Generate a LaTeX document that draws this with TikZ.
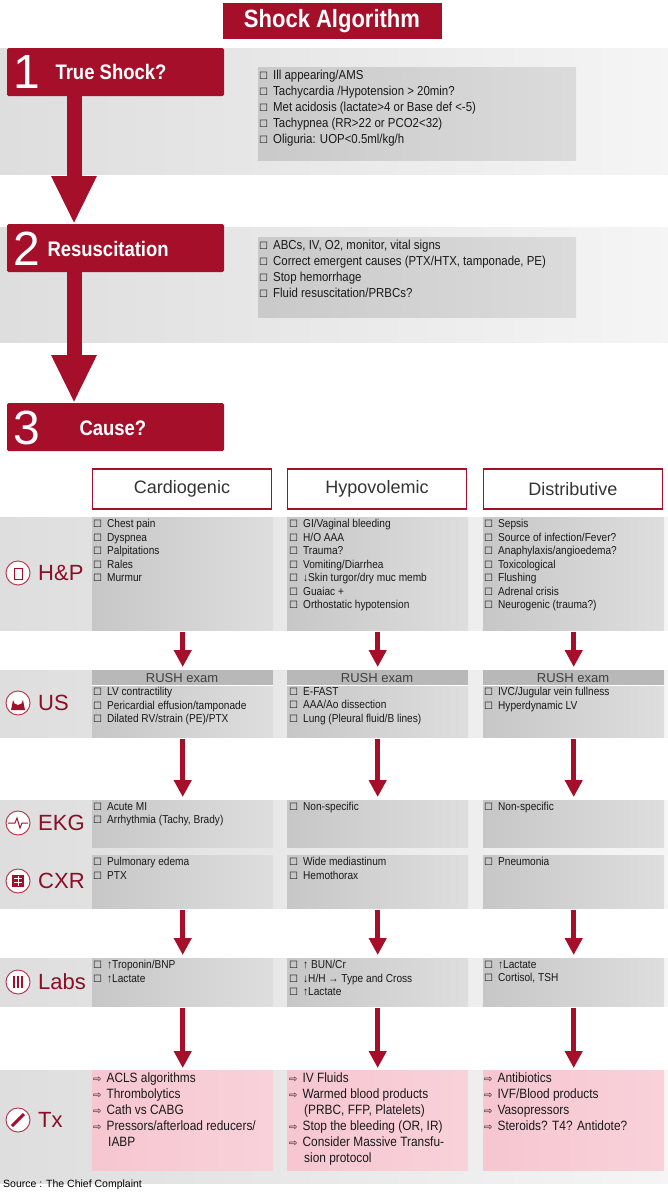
\documentclass[tikz,border=0pt]{standalone}
\usepackage{fontspec}
\setmainfont{Liberation Sans}
\newfontfamily\narrowfont{Liberation Sans}[FakeStretch=0.88]
\newfontfamily\symfont{DejaVu Sans}
\usetikzlibrary{positioning,arrows.meta,calc}
\definecolor{shockred}{HTML}{A50F2A}
\definecolor{bandgray}{HTML}{E6E8EA}
\definecolor{txpink}{HTML}{F7C6D0}
\newcommand\ck{{\symfont\fontsize{10}{8}\selectfont\char"2610}\hspace{5pt}}
\newcommand\tk{{\symfont\fontsize{10}{8}\selectfont\char"21E8}\hspace{5pt}}

\begin{document}
\begin{tikzpicture}[x=1pt,y=-1pt]
\tikzset{
    band/.style={left color=black!13, right color=black!4, draw=none},
    cellbox/.style={left color=black!22, right color=black!13, draw=none,
                    minimum width=181pt, anchor=north west, inner sep=0pt},
    listbox/.style={left color=black!21, right color=black!14, draw=none},
    stepbox/.style={fill=shockred, draw=none, rounded corners=1.5pt},
    colhead/.style={draw=shockred, line width=1.2pt, fill=white, minimum width=179pt,
                    minimum height=40pt, font=\fontsize{18}{18}\selectfont, text=black!80},
    celltext/.style={anchor=north west, align=left, inner sep=0pt,
                     font=\narrowfont\fontsize{11.5}{13.5}\selectfont, text=black!90},
    toptext/.style={anchor=north west, align=left, inner sep=0pt,
                    font=\narrowfont\fontsize{13}{16}\selectfont, text=black!90},
    txtext/.style={celltext, font=\narrowfont\fontsize{13.5}{16}\selectfont},
    rowlabel/.style={anchor=west, text=shockred!85!black, font=\fontsize{22}{22}\selectfont, inner sep=0pt},
    rowicon/.style={circle, draw=shockred!80, line width=1pt, fill=white, minimum size=24pt, inner sep=0pt},
    bigarrow/.style={draw=shockred, line width=15pt, -{Triangle[width=42pt,length=48pt]}},
    smallarrow/.style={draw=shockred, line width=5pt, -{Triangle[width=17pt,length=17pt]}}
}
\useasboundingbox (0,0) rectangle (668,1200);
\fill[white] (0,0) rectangle (668,1200);

% title
\node[fill=shockred, minimum width=219pt, minimum height=36pt, inner sep=0pt,
      text=white, font=\narrowfont\bfseries\fontsize{25}{25}\selectfont] (title) at (332,21) {Shock Algorithm};

% top bands and lists
\fill[band] (0,48) rectangle (668,174);
\fill[band] (0,227) rectangle (668,342);
\fill[listbox] (258,67) rectangle (576,160);
\fill[listbox] (258,237) rectangle (576,317);
\node[toptext] (list1) at (259,70) {\ck Ill appearing/AMS\\ \ck Tachycardia /Hypotension > 20min?\\
  \ck Met acidosis (lactate>4 or Base def <-5)\\ \ck Tachypnea (RR>22 or PCO2<32)\\ \ck Oliguria: UOP<0.5ml/kg/h};
\node[toptext] (list2) at (259,240) {\ck ABCs, IV, O2, monitor, vital signs\\
  \ck Correct emergent causes (PTX/HTX, tamponade, PE)\\ \ck Stop hemorrhage\\ \ck Fluid resuscitation/PRBCs?};

% steps
\foreach \n/\t/\y in {1/72/48, 2/249/224, 3/428/403}{
  \fill[stepbox] (7,\y) rectangle (224,\y+48);
  \node[text=white, font=\fontsize{48}{48}\selectfont, inner sep=0pt] (num\n) at (27,\t) {\n};
}
\node[text=white, font=\narrowfont\bfseries\fontsize{21}{21}\selectfont, anchor=west] (step1) at (52,72) {True Shock?};
\node[text=white, font=\narrowfont\bfseries\fontsize{21}{21}\selectfont, anchor=west] (step2) at (44,249) {Resuscitation};
\node[text=white, font=\narrowfont\bfseries\fontsize{21}{21}\selectfont, anchor=west] (step3) at (76,428) {Cause?};
\coordinate (s1b) at (74,95);
\coordinate (s2t) at (74,224);
\coordinate (s2b) at (74,272);
\coordinate (s3t) at (74,403);
\draw[bigarrow] (s1b) -- (s2t);
\draw[bigarrow] (s2b) -- (s3t);

% column headers
\node[colhead] (headC) at (182,489) {Cardiogenic};
\node[colhead] (headH) at (377,489) {Hypovolemic};
\node[colhead] (headD) at (573,489) {Distributive};

% row bands
\foreach \a/\b in {517/630, 670/737, 800/908, 958/1006, 1070/1183}
  \fill[band] (0,\a) rectangle (668,\b);

% cells
\foreach \r/\a/\h in {hp/517/113, us/670/67, ekg/800/47, cxr/855/53, labs/958/48}{
  \node[cellbox, minimum height=\h pt] (\r C) at (92,\a) {};
  \node[cellbox, minimum height=\h pt] (\r H) at (287,\a) {};
  \node[cellbox, minimum height=\h pt] (\r D) at (483,\a) {};
}
\foreach \c/\x in {C/92, H/287, D/483}{
  \node[cellbox, minimum height=100pt, left color=txpink, right color=txpink!80] (tx\c) at (\x,1070) {};
  \fill[black!28] (\x,670) rectangle (\x+181,685);
  \draw[white, line width=0.8pt] (\x,685.5) -- (\x+181,685.5);
  \node[font=\fontsize{13}{13}\selectfont, text=black!75] (rush\c) at (\x+90,678) {RUSH exam};
}

% row labels
\foreach \r/\y/\lbl in {hp/573/H\&P, us/703/US, ekg/823/EKG, cxr/881/CXR, labs/982/Labs, tx/1120/Tx}{
  \node[rowicon] (icon\r) at (18,\y) {};
  \node[rowlabel] (label\r) at (38,\y) {\lbl};
}
\draw[shockred, line width=0.9pt] ($(iconhp)+(-4,-5)$) rectangle ($(iconhp)+(4,6)$);
\fill[shockred] ($(iconus)+(-7,7)$) -- ($(iconus)+(-5,-3)$) arc[start angle=180, end angle=0, radius=5] -- ($(iconus)+(7,7)$) -- cycle;
\draw[shockred, line width=1pt] ($(iconekg)+(-10,0)$) -- ($(iconekg)+(-3,0)$) -- ($(iconekg)+(-1,-5)$) -- ($(iconekg)+(2,5)$) -- ($(iconekg)+(4,0)$) -- ($(iconekg)+(10,0)$);
\fill[shockred] ($(iconcxr)+(-6,-6)$) rectangle ($(iconcxr)+(6,6)$);
\draw[white, line width=0.7pt] ($(iconcxr)+(0,-5)$) -- ($(iconcxr)+(0,5)$) ($(iconcxr)+(-4,-3)$) -- ($(iconcxr)+(4,-3)$) ($(iconcxr)+(-4,1)$) -- ($(iconcxr)+(4,1)$);
\foreach \dx in {-4,0,4}
  \draw[shockred, line width=2pt] ($(iconlabs)+(\dx,-6)$) -- ($(iconlabs)+(\dx,6)$);
\draw[shockred, line width=3pt] ($(icontx)+(-6,6)$) -- ($(icontx)+(6,-6)$);

% cell texts
\node[celltext] (thpC) at (93,519) {\ck Chest pain\\ \ck Dyspnea\\ \ck Palpitations\\ \ck Rales\\ \ck Murmur};
\node[celltext] (thpH) at (289,519) {\ck GI/Vaginal bleeding\\ \ck H/O AAA\\ \ck Trauma?\\ \ck Vomiting/Diarrhea\\
  \ck ↓Skin turgor/dry muc memb\\ \ck Guaiac +\\ \ck Orthostatic hypotension};
\node[celltext] (thpD) at (484,519) {\ck Sepsis\\ \ck Source of infection/Fever?\\ \ck Anaphylaxis/angioedema?\\
  \ck Toxicological\\ \ck Flushing\\ \ck Adrenal crisis\\ \ck Neurogenic (trauma?)};
\node[celltext] (tusC) at (93,687) {\ck LV contractility\\ \ck Pericardial effusion/tamponade\\ \ck Dilated RV/strain (PE)/PTX};
\node[celltext] (tusH) at (289,687) {\ck E-FAST\\ \ck AAA/Ao dissection\\ \ck Lung (Pleural fluid/B lines)};
\node[celltext] (tusD) at (484,687) {\ck IVC/Jugular vein fullness\\ \ck Hyperdynamic LV};
\node[celltext] (tekgC) at (93,802) {\ck Acute MI\\ \ck Arrhythmia (Tachy, Brady)};
\node[celltext] (tekgH) at (289,802) {\ck Non-specific};
\node[celltext] (tekgD) at (484,802) {\ck Non-specific};
\node[celltext] (tcxrC) at (93,857) {\ck Pulmonary edema\\ \ck PTX};
\node[celltext] (tcxrH) at (289,857) {\ck Wide mediastinum\\ \ck Hemothorax};
\node[celltext] (tcxrD) at (484,857) {\ck Pneumonia};
\node[celltext] (tlabsC) at (93,960) {\ck ↑Troponin/BNP\\ \ck ↑Lactate};
\node[celltext] (tlabsH) at (289,960) {\ck ↑ BUN/Cr\\ \ck ↓H/H → Type and Cross\\ \ck ↑Lactate};
\node[celltext] (tlabsD) at (484,960) {\ck ↑Lactate\\ \ck Cortisol, TSH};
\node[txtext] (ttxC) at (93,1073) {\tk ACLS algorithms\\ \tk Thrombolytics\\
  \tk Cath vs CABG\\ \tk Pressors/afterload reducers/\\ \hspace{15pt}IABP};
\node[txtext] (ttxH) at (289,1073) {\tk IV Fluids\\ \tk Warmed blood products\\
  \hspace{15pt}(PRBC, FFP, Platelets)\\ \tk Stop the bleeding (OR, IR)\\ \tk Consider Massive Transfu-\\ \hspace{15pt}sion protocol};
\node[txtext] (ttxD) at (484,1073) {\tk Antibiotics\\ \tk IVF/Blood products\\
  \tk Vasopressors\\ \tk Steroids? T4? Antidote?};

% column arrows
\foreach \c in {C,H,D}{
  \draw[smallarrow] ([yshift=-2pt]hp\c.south) -- ([yshift=3pt]us\c.north);
  \draw[smallarrow] ([yshift=-2pt]us\c.south) -- ([yshift=3pt]ekg\c.north);
  \draw[smallarrow] ([yshift=-2pt]cxr\c.south) -- ([yshift=3pt]labs\c.north);
  \draw[smallarrow] ([yshift=-2pt]labs\c.south) -- ([yshift=2pt]tx\c.north);
}

\node[anchor=west, inner sep=0pt, font=\fontsize{10.5}{10.5}\selectfont] (source) at (3,1185) {Source : The Chief Complaint};
\end{tikzpicture}
\end{document}
